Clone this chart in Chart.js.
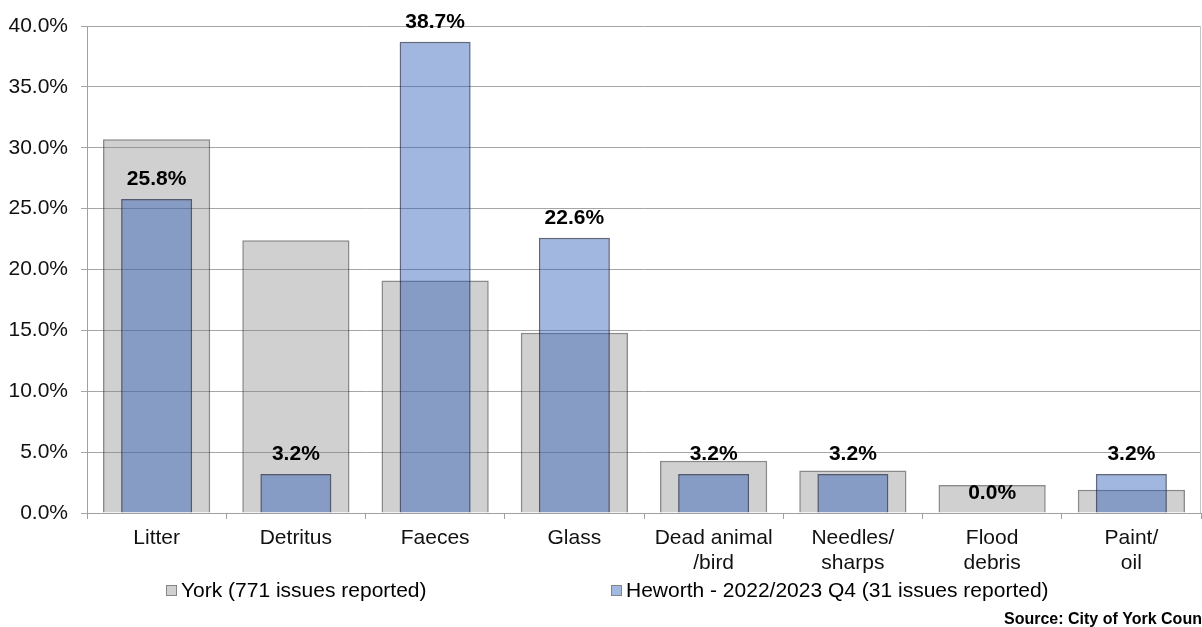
<!DOCTYPE html>
<html>
<head>
<meta charset="utf-8">
<script src="https://cdn.jsdelivr.net/npm/chart.js@4/dist/chart.umd.min.js"></script>
<style>
  body { margin: 0; background: #fff; }
  #wasteChart { display: block; }
</style>
</head>
<body>
<canvas id="wasteChart" width="1202" height="627"></canvas>
<script>
var categories = ['Litter', 'Detritus', 'Faeces', 'Glass', ['Dead animal', '/bird'], ['Needles/', 'sharps'], ['Flood', 'debris'], ['Paint/', 'oil']];
var york_label = 'York (771 issues reported)';
var york_values = [30.7, 22.4, 19.1, 14.8, 4.3, 3.5, 2.3, 1.9];
var heworth_label = 'Heworth - 2022/2023 Q4 (31 issues reported)';
var heworth_values = [25.8, 3.2, 38.7, 22.6, 3.2, 3.2, 0.0, 3.2];
var source_text = 'Source: City of York Council';

var font_family = '"Liberation Sans", Arial, sans-serif';

// labels over the Heworth bars
var value_labels = {
    id: 'value_labels',
    afterDatasetsDraw: function(chart) {
        var ctx = chart.ctx;
        var meta = chart.getDatasetMeta(1);
        ctx.save();
        ctx.font = 'bold 21px ' + font_family;
        ctx.fillStyle = '#000';
        ctx.textAlign = 'center';
        ctx.textBaseline = 'alphabetic';
        for (var i = 0; i < meta.data.length; i++) {
            var bar = meta.data[i];
            ctx.fillText(heworth_values[i].toFixed(1) + '%', bar.x, bar.y - 14);
        }
        ctx.restore();
    }
};

// right border, legend and source note
var extras = {
    id: 'extras',
    afterDraw: function(chart) {
        var ctx = chart.ctx;
        var area = chart.chartArea;
        ctx.save();
        ctx.strokeStyle = '#c4c4c4';
        ctx.lineWidth = 1;
        ctx.beginPath();
        ctx.moveTo(area.right - 0.5, area.top);
        ctx.lineTo(area.right - 0.5, area.bottom);
        ctx.stroke();

        var items = [
            {text: york_label, fill: '#d0d0d0', x: 166},
            {text: heworth_label, fill: '#a2b8e0', x: 611}
        ];
        ctx.font = '21px ' + font_family;
        ctx.textBaseline = 'middle';
        ctx.textAlign = 'left';
        items.forEach(function(it) {
            ctx.fillStyle = it.fill;
            ctx.fillRect(it.x, 585, 11, 11);
            ctx.strokeStyle = '#858585';
            ctx.strokeRect(it.x + 0.5, 585.5, 10, 10);
            ctx.fillStyle = '#000';
            ctx.fillText(it.text, it.x + 15, 591);
        });

        ctx.font = 'bold 16px ' + font_family;
        ctx.textBaseline = 'alphabetic';
        ctx.fillText(source_text, 1004, 624);
        ctx.restore();
    }
};

var chart_config = {
    type: 'bar',
    data: {
        labels: categories,
        datasets: [
            {
                label: york_label,
                data: york_values,
                backgroundColor: 'rgba(128,128,128,0.37)',
                borderColor: 'rgba(60,60,60,0.6)',
                borderWidth: 1.5,
                grouped: false,
                categoryPercentage: 1,
                barPercentage: 0.77,
                order: 1
            },
            {
                label: heworth_label,
                data: heworth_values,
                backgroundColor: 'rgba(37,88,182,0.43)',
                borderColor: 'rgba(30,40,70,0.7)',
                borderWidth: 1.5,
                grouped: false,
                categoryPercentage: 1,
                barPercentage: 0.51,
                order: 0
            }
        ]
    },
    options: {
        responsive: false,
        animation: false,
        layout: {
            padding: {top: 26, right: 1, bottom: 0, left: 0}
        },
        plugins: {
            legend: {display: false},
            tooltip: {enabled: false}
        },
        scales: {
            x: {
                grid: {
                    offset: true,
                    drawOnChartArea: false,
                    drawTicks: true,
                    tickLength: 6,
                    color: '#a0a0a0'
                },
                border: {color: '#a0a0a0'},
                ticks: {
                    color: '#111',
                    padding: 7,
                    maxRotation: 0,
                    font: {family: font_family, size: 21, lineHeight: 1.19}
                },
                afterFit: function(scale) { scale.height = 114; }
            },
            y: {
                min: 0,
                max: 40,
                grid: {
                    color: '#a6a6a6',
                    tickLength: 6
                },
                border: {color: '#a0a0a0'},
                ticks: {
                    stepSize: 5,
                    color: '#111',
                    padding: 13,
                    font: {family: font_family, size: 21},
                    callback: function(v) { return v.toFixed(1) + '%'; }
                },
                afterFit: function(scale) { scale.width = 87; }
            }
        }
    },
    plugins: [value_labels, extras]
};

var myContext = document.getElementById('wasteChart');
var myChart = new Chart(myContext, chart_config);
</script>
</body>
</html>
